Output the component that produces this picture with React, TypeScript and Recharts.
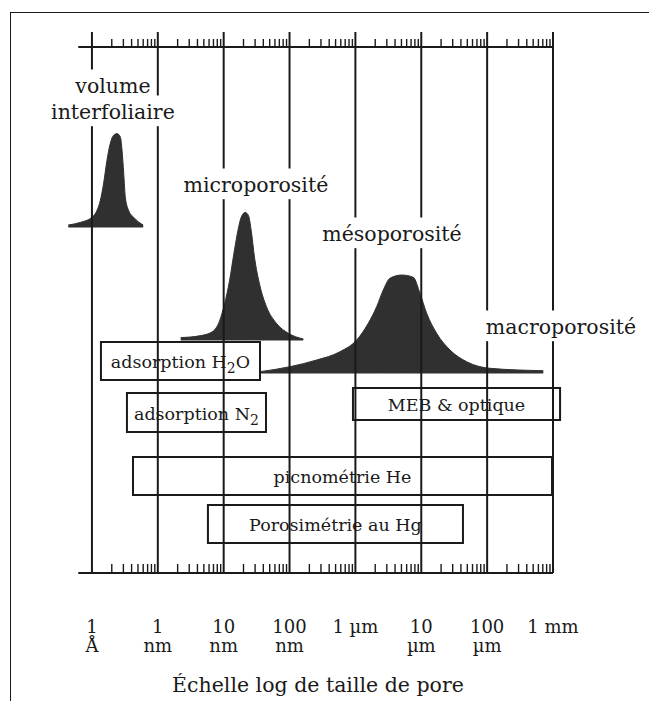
import React from 'react';
import {
  ComposedChart,
  Area,
  XAxis,
  YAxis,
  ReferenceLine,
  ReferenceArea,
  ReferenceDot,
} from 'recharts';

// pore size scale, in nm (log axis)
const majorTicks = [0.1, 1, 10, 100, 1000, 10000, 100000, 1000000];
const tickLabelTop = ['1', '1', '10', '100', '1 µm', '10', '100', '1 mm'];
const tickLabelBottom = ['Å', 'nm', 'nm', 'nm', '', 'µm', 'µm', ''];
const axisStart = 0.062;

// peak outlines: pore size (nm) and height of the curve, base = flat bottom
const volumeSize = [0.0438, 0.066, 0.0997, 0.1187, 0.1337, 0.15, 0.169, 0.1896, 0.2136, 0.2397, 0.27, 0.2864, 0.3039, 0.3213, 0.362, 0.4312, 0.599];
const volumeTop = [348, 350.5, 355.6, 362.3, 372.3, 389.1, 412.6, 429.4, 437.8, 439.4, 436.1, 422.7, 399.2, 375.7, 362.3, 355.6, 348];
const volumeBase = 346;

const microSize = [2.23, 4.5, 6.8, 8.6, 10.24, 12.24, 14.23, 16.42, 18.42, 21.2, 23.87, 26.23, 29.44, 35.18, 44.48, 63.07, 95.31, 161.6];
const microTop = [235.4, 237.4, 241.5, 251.5, 268.3, 291.8, 318.6, 342.1, 355.6, 360.6, 357.2, 342.1, 315.3, 288.4, 266.6, 249.8, 239.8, 234.1];
const microBase = 233;

const mesoSize = [35.55, 101.5, 258.1, 583.1, 1045, 1568, 2102, 2649, 3347, 5040, 7559, 9556, 12080, 17130, 27280, 48900, 110400, 711900];
const mesoTop = [201.3, 206.3, 213, 221.3, 233, 249.7, 266.3, 283, 294.7, 298, 295.7, 279.7, 259.7, 239.7, 223, 211.3, 204.7, 202.3];
const mesoBase = 200;

// free labels
const labelText = ['volume', 'interfoliaire', 'microporosité', 'mésoporosité', 'macroporosité'];
const labelSize = [0.2085, 0.2085, 30.9, 3589, 1320000];
const labelHeight = [480, 454, 381, 332, 239];

// measuring methods: size range and vertical band
const methodName = ['adsorption H₂O', 'adsorption N₂', 'picnométrie He', 'Porosimétrie au Hg', 'MEB & optique'];
const methodFrom = [0.137, 0.34, 0.42, 5.77, 918];
const methodTo = [35.6, 43.9, 966000, 42950, 1280000];
const methodLow = [193, 141, 78, 30, 153];
const methodHigh = [231, 180, 116, 68, 185];

const axisTitle = 'Échelle log de taille de pore';

const minorTicks = majorTicks.slice(0, -1).flatMap((m) => [2, 3, 4, 5, 6, 7, 8, 9].map((k) => m * k));
const allTicks = [...majorTicks, ...minorTicks].sort((a, b) => a - b);

const FONT = '"DejaVu Serif", serif';
const INK = '#1a1a1a';
const PEAK = '#303030';

const empty = [null, null];
const rows = [
  ...volumeSize.map((s, i) => ({ size: s, volume: [volumeBase, volumeTop[i]], micro: empty, meso: empty })),
  ...microSize.map((s, i) => ({ size: s, volume: empty, micro: [microBase, microTop[i]], meso: empty })),
  ...mesoSize.map((s, i) => ({ size: s, volume: empty, micro: empty, meso: [mesoBase, mesoTop[i]] })),
].sort((a, b) => a.size - b.size);

const majorIndex = (v: number) => majorTicks.findIndex((m) => Math.abs(m - v) / m < 1e-6);

const TopTick = (props: any) => {
  const { x, y, payload } = props;
  const major = majorIndex(payload.value) >= 0;
  return <line x1={x} x2={x} y1={y} y2={y - (major ? 15 : 8)} stroke={INK} strokeWidth={major ? 2 : 1.4} />;
};

const BottomTick = (props: any) => {
  const { x, y, payload } = props;
  const i = majorIndex(payload.value);
  if (i < 0) {
    return <line x1={x} x2={x} y1={y} y2={y - 9} stroke={INK} strokeWidth={1.4} />;
  }
  return (
    <g fontFamily={FONT} fontSize={18} fill={INK} textAnchor="middle">
      <text x={x} y={y + 60}>{tickLabelTop[i]}</text>
      <text x={x} y={y + 79}>{tickLabelBottom[i]}</text>
    </g>
  );
};

const labelShape = (text: string, size: number, bg: boolean) => (props: any) => {
  const { cx, cy } = props;
  const w = text.length * size * 0.56 + 8;
  return (
    <g>
      {bg && <rect x={cx - w / 2} y={cy - size - 3} width={w} height={size * 1.35 + 3} fill="#fff" />}
      <text x={cx} y={cy} textAnchor="middle" fontFamily={FONT} fontSize={size} fill={INK}>
        {text}
      </text>
    </g>
  );
};

const boxShape = (name: string) => (props: any) => {
  const { x, y, width, height } = props;
  const parts = name.split('₂');
  const tx = x + width / 2;
  const ty = y + height / 2 + 7;
  return (
    <g>
      <rect x={x} y={y} width={width} height={height} fill="#fff" stroke={INK} strokeWidth={2} />
      <text x={tx} y={ty} textAnchor="middle" fontFamily={FONT} fontSize={17.5} fill={INK}>
        {parts[0]}
        {parts.length > 1 && (
          <>
            <tspan dy={5} fontSize={14}>2</tspan>
            <tspan dy={-5}>{parts[1]}</tspan>
          </>
        )}
      </text>
    </g>
  );
};

export default function App() {
  return (
    <div style={{ position: 'absolute', left: 0, top: 0, width: 649, height: 701, background: '#fff' }}>
      <div
        style={{
          position: 'absolute',
          left: 10,
          top: 12,
          width: 639,
          height: 689,
          borderTop: `1.5px solid ${INK}`,
          borderLeft: `1.5px solid ${INK}`,
        }}
      />
      <ComposedChart
        width={649}
        height={701}
        data={rows}
        margin={{ top: 46, right: 96, bottom: 127, left: 67.8 }}
        style={{ position: 'absolute', left: 0, top: 0 }}
      >
        <XAxis
          xAxisId="top"
          orientation="top"
          type="number"
          scale="log"
          dataKey="size"
          domain={[0.043, 1000000]}
          allowDataOverflow
          ticks={allTicks}
          interval={0}
          height={1}
          tickSize={0}
          tickMargin={0}
          axisLine={false}
          tickLine={false}
          tick={(p: any) => <TopTick {...p} />}
        />
        <XAxis
          xAxisId="b"
          orientation="bottom"
          type="number"
          scale="log"
          dataKey="size"
          domain={[0.043, 1000000]}
          allowDataOverflow
          ticks={allTicks}
          interval={0}
          height={1}
          tickSize={0}
          tickMargin={0}
          axisLine={false}
          tickLine={false}
          tick={(p: any) => <BottomTick {...p} />}
        />
        <YAxis yAxisId="y" type="number" domain={[0, 526]} allowDataOverflow hide />

        {majorTicks.map((m) => (
          <ReferenceLine key={'g' + m} xAxisId="b" yAxisId="y" x={m} stroke={INK} strokeWidth={2} ifOverflow="visible" />
        ))}
        <ReferenceLine
          xAxisId="b"
          yAxisId="y"
          segment={[{ x: axisStart, y: 526 }, { x: 1000000, y: 526 }]}
          stroke={INK}
          strokeWidth={2}
          ifOverflow="visible"
        />
        <ReferenceLine
          xAxisId="b"
          yAxisId="y"
          segment={[{ x: axisStart, y: 0 }, { x: 1000000, y: 0 }]}
          stroke={INK}
          strokeWidth={2}
          ifOverflow="visible"
        />

        {['volume', 'micro', 'meso'].map((k) => (
          <Area
            key={k}
            xAxisId="b"
            yAxisId="y"
            dataKey={k}
            type="monotone"
            connectNulls
            fill={PEAK}
            fillOpacity={1}
            stroke={PEAK}
            strokeWidth={1}
            dot={false}
            activeDot={false}
            isAnimationActive={false}
          />
        ))}

        {methodName.map((n, i) => (
          <ReferenceArea
            key={n}
            xAxisId="b"
            yAxisId="y"
            x1={methodFrom[i]}
            x2={methodTo[i]}
            y1={methodLow[i]}
            y2={methodHigh[i]}
            ifOverflow="visible"
            shape={boxShape(n)}
          />
        ))}

        {labelText.map((t, i) => (
          <ReferenceDot
            key={t}
            xAxisId="b"
            yAxisId="y"
            x={labelSize[i]}
            y={labelHeight[i]}
            r={0}
            ifOverflow="visible"
            shape={labelShape(t, 20.5, true)}
          />
        ))}
        <ReferenceDot
          xAxisId="b"
          yAxisId="y"
          x={270}
          y={-119}
          r={0}
          ifOverflow="visible"
          shape={labelShape(axisTitle, 20.5, false)}
        />
      </ComposedChart>
    </div>
  );
}
